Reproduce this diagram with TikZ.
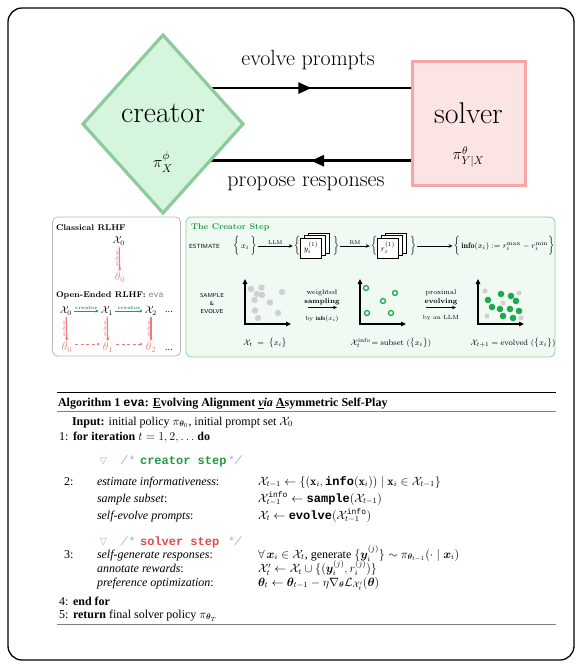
\RequirePackage{fix-cm}
\documentclass[tikz,border=0pt]{standalone}
\usepackage{amsmath,amssymb,bm}
\usepackage{fontspec}
\setmonofont{Liberation Mono}
\newfontfamily\algfont{Liberation Serif}
\newfontfamily\algtt{Liberation Mono}
\usetikzlibrary{shapes.geometric,arrows.meta,decorations.markings,backgrounds}

\definecolor{creatorfill}{HTML}{D5F5DD}
\definecolor{creatorline}{HTML}{8CCB9B}
\definecolor{solverfill}{HTML}{FDE4E4}
\definecolor{solverline}{HTML}{F4A7A6}
\definecolor{stepgreen}{HTML}{1F9E4B}
\definecolor{panelfill}{HTML}{F0FAF3}
\definecolor{panelline}{HTML}{86D1A0}
\definecolor{softred}{HTML}{EE7B7B}
\definecolor{dotgray}{HTML}{D0D0D0}
\definecolor{dotgreen}{HTML}{1DAA4E}
\definecolor{commentblue}{HTML}{9DB3CF}
\definecolor{codered}{HTML}{E5484D}
\definecolor{codegreen}{HTML}{22993F}

\newcommand{\atsize}[1]{\fontsize{#1pt}{#1pt}\selectfont}

\begin{document}
\begin{tikzpicture}[x=1pt,y=-1pt,
  every node/.style={inner sep=0pt, outer sep=0pt},
  flow/.style={line width=2.6pt, postaction={decorate},
    decoration={markings, mark=at position 0.5 with {\arrow{Triangle[length=13pt,width=11pt]}}}},
  solverarrow/.style={draw=softred, line width=1.1pt, -{Stealth[length=3.2pt,width=3.2pt]}, shorten <=1.5pt, shorten >=1pt},
  solverlbl/.style={midway, rotate=90, anchor=south, font=\bfseries\atsize{4.2}, text=softred, inner sep=1pt},
  creatorarrow/.style={draw=stepgreen, line width=1pt, -{Stealth[length=3.2pt,width=3.2pt]}, shorten <=2.5pt, shorten >=2.5pt},
  creatorlbl/.style={midway, above=1.2pt, font=\bfseries\atsize{4.8}, text=stepgreen},
  thetaarrow/.style={draw=softred, line width=0.9pt, dash pattern=on 3pt off 2.5pt, -{Stealth[length=3pt,width=3pt]}},
  smallarrow/.style={line width=0.6pt, -{Stealth[length=4pt,width=3.5pt]}, shorten >=1pt, shorten <=1pt},
  card/.style={draw, fill=white, line width=0.8pt, minimum width=21pt, minimum height=20pt},
  axis/.style={line width=1.3pt, line join=miter, {Triangle[length=5pt,width=4.5pt]}-{Triangle[length=5pt,width=4.5pt]}},
  panel/.style={line width=0.8pt, rounded corners=5pt}]
\useasboundingbox (0,0) rectangle (581,667);

% outer frame
\draw[line width=1.3pt, rounded corners=14pt] (8,8) rectangle (574,660);

% ---------- creator / solver loop ----------
\node[diamond, draw=creatorline, fill=creatorfill, line width=3.2pt,
      minimum width=160pt, minimum height=178pt] (creator) at (163,124) {};
\node[draw=solverline, fill=solverfill, line width=3pt,
      minimum width=113pt, minimum height=124pt] (solver) at (468.5,123.5) {};
\node[font=\atsize{30}] (creatorname) at (163,113) {creator};
\node[font=\atsize{16}] (creatorpol) at (163,162) {$\pi_X^{\phi}$};
\node[font=\atsize{30}] (solvername) at (468.5,113) {solver};
\node[font=\atsize{16}] (solverpol) at (468.5,157) {$\pi_{Y|X}^{\theta}$};
\begin{scope}[on background layer]
  \draw[flow] (creator.37) -- (creator.37 -| solver.west);
  \draw[flow] (solver.west |- creator.-38) -- (creator.-38);
\end{scope}
\node[font=\atsize{22}] (evolvelbl) at (308,60) {evolve prompts};
\node[font=\atsize{22}] (proposelbl) at (306,184) {propose responses};

% ---------- panels ----------
\node[panel, draw=gray!55, minimum width=128pt, minimum height=139pt] (classic) at (116.5,286.5) {};
\node[panel, draw=panelline, fill=panelfill, minimum width=369pt, minimum height=140pt] (creatorstep) at (370.5,287) {};

% classical RLHF
\node[anchor=west, font=\bfseries\atsize{8.3}] (classictitle) at (56,228) {Classical RLHF};
\node[font=\atsize{10}] (cx0) at (119,241) {$\mathcal{X}_0$};
\node[font=\atsize{12}, text=softred] (cth0) at (120,277) {$\theta_0$};
\draw[solverarrow] (cx0) -- (cth0) node[solverlbl] {solver};

% open-ended RLHF
\node[anchor=west, font=\atsize{8.3}] (opentitle) at (56,295) {\textbf{Open-Ended RLHF:} \textcolor{gray}{\ttfamily eva}};
\node[font=\atsize{10}] (ox0) at (66,311) {$\mathcal{X}_0$};
\node[font=\atsize{10}] (ox1) at (107,311) {$\mathcal{X}_1$};
\node[font=\atsize{10}] (ox2) at (151,311) {$\mathcal{X}_2$};
\node[font=\bfseries\atsize{7}] (odots1) at (169,312) {...};
\node[font=\atsize{12}, text=softred] (oth0) at (67,347) {$\theta_0$};
\node[font=\atsize{12}, text=softred] (oth1) at (108,347) {$\theta_1$};
\node[font=\atsize{12}, text=softred] (oth2) at (151,347) {$\theta_2$};
\node[font=\bfseries\atsize{7}] (odots2) at (169,350) {...};
\draw[creatorarrow] (ox0) -- (ox1) node[creatorlbl] {creator};
\draw[creatorarrow] (ox1) -- (ox2) node[creatorlbl] {creator};
\draw[solverarrow] (ox0) -- (oth0) node[solverlbl] {solver};
\draw[solverarrow] (ox1) -- (oth1) node[solverlbl] {solver};
\draw[solverarrow] (ox2) -- (oth2) node[solverlbl] {solver};
\draw[thetaarrow] ([xshift=3pt,yshift=3pt]oth0.east) -- ([xshift=-3pt,yshift=3pt]oth1.west);
\draw[thetaarrow] ([xshift=3pt,yshift=3pt]oth1.east) -- ([xshift=-3pt,yshift=3pt]oth2.west);

% ---------- the creator step ----------
\node[anchor=west, font=\bfseries\atsize{8.3}, text=stepgreen] (steptitle) at (191,227) {The Creator Step};
\node[anchor=west, font=\sffamily\atsize{6}] (estimate) at (189,246) {ESTIMATE};
\node[font=\atsize{8}] (xi) at (245,246) {$\bigg\{\,x_i\,\bigg\}$};
% response cards
\node[font=\atsize{8}] (ylb) at (297,246) {$\bigg\{$};
\node[card] (yback2) at (319,243) {};
\node[card] (yback1) at (315,245.5) {};
\node[card, font=\atsize{8}] (ycard) at (311,248) {$y_i^{(1)}$};
\node[font=\atsize{8}] (yrb) at (336,246) {$\bigg\}$};
% reward cards
\node[font=\atsize{8}] (rlb) at (374,246) {$\bigg\{$};
\node[card] (rback2) at (396,243) {};
\node[card] (rback1) at (392,245.5) {};
\node[card, font=\atsize{8}] (rcard) at (388,248) {$r_i^{(1)}$};
\node[font=\atsize{8}] (rrb) at (413,246) {$\bigg\}$};
\node[font=\atsize{8}] (info) at (504,246) {$\bigg\{\,\mathbf{info}(x_i) \mathrel{:=} r_i^{\max} - r_i^{\min}\bigg\}$};
\draw[smallarrow] (xi) -- (ylb) node[midway, above=1.5pt, font=\atsize{5.5}] {LLM};
\draw[smallarrow] (yrb) -- (rlb) node[midway, above=1.5pt, font=\atsize{5.5}] {RM};
\draw[smallarrow] (rrb) -- (info);

\node[align=center, font=\sffamily\fontsize{5.8pt}{8pt}\selectfont] (sampleevolve) at (212,303) {SAMPLE\\\&\\EVOLVE};

% prompt set
\draw[axis] (245,279) -- (245,324) -- (291,324);
\foreach \px/\py in {251/289, 261.5/287.5, 257/294, 262/295, 282/292, 254.5/300, 270/302.5, 255/310.5, 258/318, 278/313}
  \fill[dotgray] (\px,\py) circle[radius=3.2pt];
% informative subset
\draw[axis] (360,279) -- (360,324) -- (406,324);
\foreach \px/\py in {366/288, 395/293, 383/301, 367/313, 391/313}
  \draw[dotgreen, line width=1.3pt] (\px,\py) circle[radius=2.5pt];
% evolved set
\draw[axis] (478,279) -- (478,324) -- (524,324);
\foreach \px/\py in {485/291, 519/293, 503/303, 487/316, 521/318}
  \fill[dotgray] (\px,\py) circle[radius=2.5pt];
\foreach \px/\py in {501/294, 511/296, 488/300, 516/301, 492/307, 500/309, 510/309, 519/311, 503/316, 513/318}
  \fill[dotgreen] (\px,\py) circle[radius=3.3pt];

\node[font=\atsize{8}] (setlbl) at (265,343) {$\mathcal{X}_t \;=\; \big\{x_i\big\}$};
\node[font=\atsize{8}] (sublbl) at (391,343) {$\mathcal{X}_t^{\mathrm{info}}\!= \text{subset}\ (\big\{x_i\big\})$};
\node[font=\atsize{8}] (evlbl) at (513,343) {$\mathcal{X}_{t+1} = \text{evolved}\ (\big\{x_i\big\})$};

\coordinate (wsA) at (307,307.5);
\coordinate (wsB) at (338,307.5);
\draw[smallarrow, line width=0.8pt] (wsA) -- (wsB);
\node[font=\atsize{7}] (wlbl1) at (322,293) {weighted};
\node[font=\bfseries\atsize{7}] (wlbl2) at (322,301.5) {sampling};
\node[font=\atsize{6}] (wlbl3) at (322,318.5) {by $\mathbf{info}(x_i)$};

\coordinate (peA) at (425,307.5);
\coordinate (peB) at (457,307.5);
\draw[smallarrow, line width=0.8pt] (peA) -- (peB);
\node[font=\atsize{7}] (plbl1) at (441,293) {proximal};
\node[font=\bfseries\atsize{7}] (plbl2) at (441,301.5) {evolving};
\node[font=\atsize{6}] (plbl3) at (441,318.5) {by an LLM};

% ---------- algorithm ----------
\begin{scope}[every node/.append style={anchor=base west, font=\algfont\fontsize{12pt}{14pt}\selectfont}]
\draw[line width=0.9pt] (57,392) -- (556,392);
\node (algtitle) at (58,406) {\textbf{Algorithm 1 {\algtt eva}: \underline{E}volving Alignment \textit{\underline{v}ia} \underline{A}symmetric Self-Play}};
\draw[line width=0.5pt, gray] (57,411) -- (556,411);
\node (input) at (72,425) {\textbf{Input:} initial policy $\pi_{\bm{\theta}_0}$, initial prompt set $\mathcal{X}_0$};
\node (n1) at (59,440) {1:};
\node (l1) at (73,440) {\textbf{for iteration} $t = 1, 2, \ldots$ \textbf{do}};

\node (c1) at (99,464) {{\color{commentblue}$\triangledown$}\hspace{13pt}{\color{commentblue}\algtt\itshape /*}\hspace{5pt}{\algtt\bfseries\color{codegreen}creator step}\hspace{1pt}{\color{commentblue}\algtt\itshape */}};
\node (n2) at (64,485) {2:};
\node (lab2a) at (97,485) {\textit{estimate informativeness}:};
\node (m2a) at (258,485) {$\mathcal{X}_{t-1} \leftarrow \{(\mathbf{x}_i, \text{\algtt\bfseries info}(\mathbf{x}_i)) \mid \mathbf{x}_i \in \mathcal{X}_{t-1}\}$};
\node (lab2b) at (97,502) {\textit{sample subset}:};
\node (m2b) at (258,502) {$\mathcal{X}_{t-1}^{\text{\algtt info}} \leftarrow \text{\algtt\bfseries sample}(\mathcal{X}_{t-1})$};
\node (lab2c) at (97,519) {\textit{self-evolve prompts}:};
\node (m2c) at (258,519) {$\mathcal{X}_{t} \leftarrow \text{\algtt\bfseries evolve}(\mathcal{X}_{t-1}^{\text{\algtt info}})$};

\node (c2) at (99,545) {{\color{commentblue}$\triangledown$}\hspace{13pt}{\color{commentblue}\algtt\itshape /*}\hspace{5pt}{\algtt\bfseries\color{codered}solver step}\hspace{8pt}{\color{commentblue}\algtt\itshape */}};
\node (n3) at (64,558) {3:};
\node (lab3a) at (97,558) {\textit{self-generate responses}:};
\node (m3a) at (258,558) {$\forall\, \bm{x}_i \in \mathcal{X}_t$, generate $\{\bm{y}_i^{(j)}\} \sim \pi_{\bm{\theta}_{t-1}}(\cdot \mid \bm{x}_i)$};
\node (lab3b) at (97,572.5) {\textit{annotate rewards}:};
\node (m3b) at (258,572.5) {$\mathcal{X}_t' \leftarrow \mathcal{X}_t \cup \{(\bm{y}_i^{(j)}, r_i^{(j)})\}$};
\node (lab3c) at (97,586) {\textit{preference optimization}:};
\node (m3c) at (258,586) {$\bm{\theta}_t \leftarrow \bm{\theta}_{t-1} - \eta \nabla_{\bm{\theta}} \mathcal{L}_{\mathcal{X}_t'}(\bm{\theta})$};

\node (n4) at (59,605) {4:};
\node (l4) at (73,605) {\textbf{end for}};
\node (n5) at (59,618) {5:};
\node (l5) at (73,618) {\textbf{return} final solver policy $\pi_{\bm{\theta}_T}$};
\draw[line width=0.5pt, gray] (57,624) -- (556,624);
\end{scope}
\end{tikzpicture}
\end{document}
